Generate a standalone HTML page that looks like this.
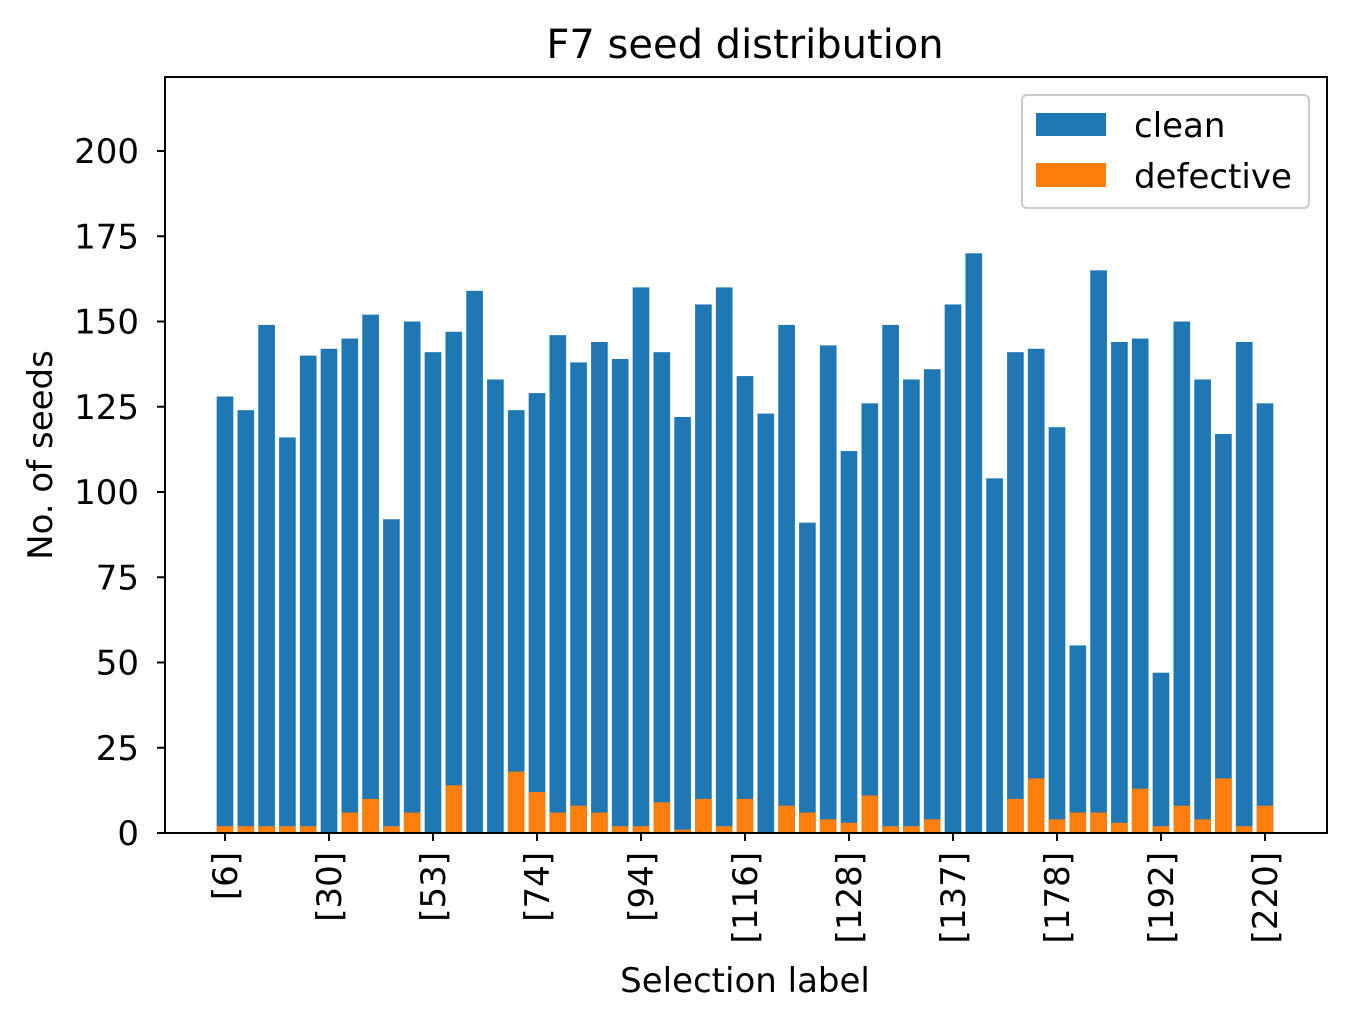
<!DOCTYPE html>
<html><head><meta charset="utf-8"><style>
body{margin:0;background:#fff}
svg text{font-family:"DejaVu Sans","Liberation Sans",sans-serif;fill:#000}
</style></head><body>
<svg id="chart" width="1351" height="1024" xmlns="http://www.w3.org/2000/svg">
<rect width="1351" height="1024" fill="#fff"/>
<text x="745" y="58" style="font-size:40px" text-anchor="middle">F7 seed distribution</text>
<g id="bars"></g>
<g id="axes"></g>
<rect x="165" y="77" width="1162" height="756" fill="none" stroke="#000" stroke-width="2"/>
<text x="745" y="992" style="font-size:34px" text-anchor="middle">Selection label</text>
<text transform="translate(52,455) rotate(-90)" style="font-size:34px" text-anchor="middle">No. of seeds</text>
<g>
<rect x="1022" y="95" width="287" height="113" rx="5" fill="#fff" stroke="#ccc" stroke-width="2"/>
<rect x="1036" y="113" width="70" height="23" fill="#1f77b4"/>
<text x="1134" y="137" style="font-size:34px">clean</text>
<rect x="1036" y="163" width="70" height="24" fill="#ff7f0e"/>
<text x="1134" y="188" style="font-size:34px">defective</text>
</g>
</svg>
<script>
const clean=[128,124,149,116,140,142,145,152,92,150,141,147,159,133,124,129,146,138,144,139,160,141,122,155,160,134,123,149,91,143,112,126,149,133,136,155,170,104,141,142,119,55,165,144,145,47,150,133,117,144,126];
const defective=[2,2,2,2,2,0,6,10,2,6,0,14,0,0,18,12,6,8,6,2,2,9,1,10,2,10,0,8,6,4,3,11,2,2,4,0,0,0,10,16,4,6,6,3,13,2,8,4,16,2,8];
const xTickLabels=["[6]","[30]","[53]","[74]","[94]","[116]","[128]","[137]","[178]","[192]","[220]"];
const yTicks=[0,25,50,75,100,125,150,175,200];
const NS="http://www.w3.org/2000/svg";
const x0=225,step=(1265-225)/50,bw=step*0.8;
const xs=i=>x0+i*step;
const ys=v=>833-v*3.41;
const bars=document.getElementById('bars'),axes=document.getElementById('axes');
function mk(t,a,p){const e=document.createElementNS(NS,t);for(const k in a)e.setAttribute(k,a[k]);p.appendChild(e);return e;}
clean.forEach((v,i)=>{
 const r=mk('rect',{x:xs(i)-bw/2,y:ys(v),width:bw,height:833-ys(v),fill:'#1f77b4'},bars);
 
 
});
defective.forEach((v,i)=>{
 const r=mk('rect',{x:xs(i)-bw/2,y:ys(v),width:bw,height:833-ys(v),fill:'#ff7f0e'},bars);
 
 
});
yTicks.forEach(v=>{
 const l=mk('line',{x1:157,x2:165,y1:ys(v),y2:ys(v),stroke:'#000','stroke-width':2},axes);
 
 
 const t=mk('text',{x:139,y:ys(v)+12,style:'font-size:34px','text-anchor':'end'},axes);
 t.textContent=v;
 
 
});
xTickLabels.forEach((s,j)=>{
 const x=xs(j*5);
 const l=mk('line',{x1:x,x2:x,y1:833,y2:841,stroke:'#000','stroke-width':2},axes);
 
 
 const t=mk('text',{transform:`translate(${x+12},852) rotate(-90)`,style:'font-size:34px','text-anchor':'end'},axes);
 t.textContent=s;
 
 
});
</script>
</body></html>
